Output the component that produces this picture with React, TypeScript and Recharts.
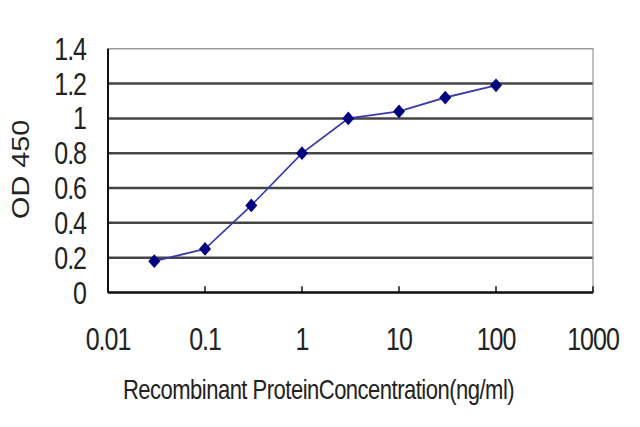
import { LineChart, Line, XAxis, YAxis, CartesianGrid, ReferenceArea, Label } from "recharts"

const concentrations = [0.03, 0.1, 0.3, 1, 3, 10, 30, 100]
const od450 = [0.18, 0.25, 0.5, 0.8, 1.0, 1.04, 1.12, 1.19]
const xTicks = [0.01, 0.1, 1, 10, 100, 1000]
const yTicks = [0, 0.2, 0.4, 0.6, 0.8, 1, 1.2, 1.4]
const gridValues = [0.2, 0.4, 0.6, 0.8, 1, 1.2]

const data = concentrations.map((c, i) => ({ conc: c, od: od450[i] }))

const FONT = "'Liberation Sans', Arial, sans-serif"
const X_MARGIN = 28

// the source picture is stretched vertically, so the whole chart is drawn
// in a shorter box and scaled up by 1.25
const STRETCH = 1.25

const XTick = ({ x, y, payload }: any) => (
  <g>
    <line x1={x} x2={x} y1={y - X_MARGIN} y2={y - X_MARGIN - 5} stroke="#111" strokeWidth={1.5} />
    <text x={x} y={y} dy="0.71em" textAnchor="middle" fontSize={25} letterSpacing={-1} fill="#222" fontFamily={FONT}>
      {String(payload.value)}
    </text>
  </g>
)

const Diamond = ({ cx, cy }: any) => {
  if (cx == null || cy == null) return null
  return (
    <polygon
      points={`${cx},${cy - 5.5} ${cx + 6},${cy} ${cx},${cy + 5.5} ${cx - 6},${cy}`}
      fill="#000080"
    />
  )
}

export default function App() {
  return (
    <div style={{ position: "absolute", left: 0, top: 0, width: 640, height: 427, overflow: "hidden", background: "#fff" }}>
      <div style={{ transform: `scaleY(${STRETCH})`, transformOrigin: "0 0" }}>
        <LineChart width={640} height={342} data={data} margin={{ top: 39, right: 47, left: 0, bottom: 28 }}>
          <CartesianGrid horizontal vertical={false} horizontalValues={gridValues} stroke="#444" strokeWidth={2} />
          <ReferenceArea x1={0.01} x2={1000} y1={0} y2={1.4} fill="none" stroke="#999" strokeWidth={1.2} />
          <XAxis
            dataKey="conc"
            type="number"
            scale="log"
            domain={[0.01, 1000]}
            ticks={xTicks}
            interval={0}
            allowDataOverflow
            height={80}
            tickSize={0}
            tickMargin={X_MARGIN}
            tick={<XTick />}
            axisLine={{ stroke: "#111", strokeWidth: 2 }}
          >
            <Label
              content={({ viewBox }: any) => (
                <text
                  x={viewBox.x + viewBox.width / 2 - 32}
                  y={viewBox.y + 79}
                  textAnchor="middle"
                  dominantBaseline="middle"
                  fontSize={22}
                  letterSpacing={-0.5}
                  fill="#222"
                  fontFamily={FONT}
                >
                  Recombinant ProteinConcentration(ng/ml)
                </text>
              )}
            />
          </XAxis>
          <YAxis
            type="number"
            domain={[0, 1.4]}
            ticks={yTicks}
            interval={0}
            width={108}
            tickSize={0}
            tickMargin={22}
            tickLine={false}
            tick={{ fontSize: 25, fill: "#222", fontFamily: FONT, letterSpacing: -1 }}
            axisLine={{ stroke: "#111", strokeWidth: 2 }}
          >
            <Label
              content={({ viewBox }: any) => {
                const cy = viewBox.y + viewBox.height / 2 - 1
                return (
                  <text
                    x={23}
                    y={cy}
                    transform={`rotate(-90, 23, ${cy})`}
                    textAnchor="middle"
                    dominantBaseline="middle"
                    fontSize={23}
                    fill="#222"
                    fontFamily={FONT}
                  >
                    OD 450
                  </text>
                )
              }}
            />
          </YAxis>
          <Line
            dataKey="od"
            stroke="#3a3aaa"
            strokeWidth={1.5}
            dot={<Diamond />}
            activeDot={false}
            isAnimationActive={false}
          />
        </LineChart>
      </div>
    </div>
  )
}
